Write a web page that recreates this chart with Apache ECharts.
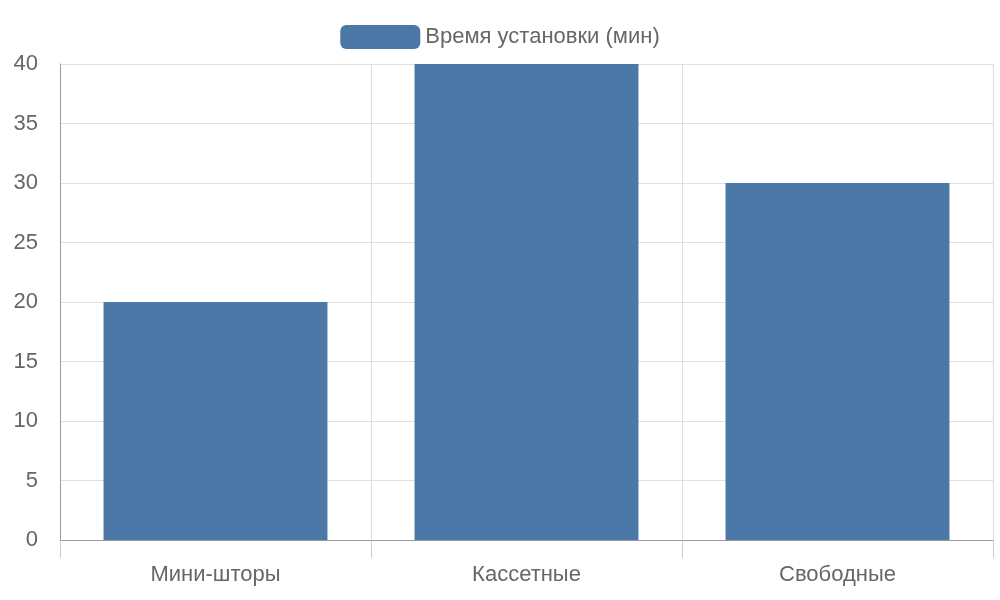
<!DOCTYPE html>
<html><head><meta charset="utf-8">
<script src="https://cdn.jsdelivr.net/npm/echarts@6/dist/echarts.min.js"></script>
<style>html,body{margin:0;background:#fff}#c{width:1000px;height:600px}</style>
</head><body><div id="c"></div>
<script>
const categories = ["Мини-шторы", "Кассетные", "Свободные"];
const installTime = [20, 40, 30];
const seriesName = "Время установки (мин)";

const chart = echarts.init(document.getElementById("c"));
chart.setOption({
  animation: false,
  textStyle: { fontFamily: "Liberation Sans" },
  legend: {
    top: 20, left: "center", itemWidth: 80, itemHeight: 24, itemGap: 12,
    textStyle: { color: "#666", fontSize: 22 },
    data: [seriesName]
  },
  grid: { left: 60, right: 7, top: 64, bottom: 60 },
  xAxis: {
    type: "category", data: categories,
    axisLine: { lineStyle: { color: "#999" } },
    axisTick: { show: true, length: 18, lineStyle: { color: "#ccc" } },
    splitLine: { show: true, lineStyle: { color: "#ddd" } },
    axisLabel: { color: "#666", fontSize: 22, margin: 24 }
  },
  yAxis: {
    type: "value", min: 0, max: 40, interval: 5,
    axisLine: { show: true, lineStyle: { color: "#999" } },
    axisTick: { show: false },
    splitLine: { lineStyle: { color: "#e0e0e0" } },
    axisLabel: { color: "#666", fontSize: 22, margin: 22 }
  },
  series: [{
    name: seriesName, type: "bar", data: installTime,
    barWidth: "72%", itemStyle: { color: "#4c78a8" }
  }]
});
</script></body></html>
